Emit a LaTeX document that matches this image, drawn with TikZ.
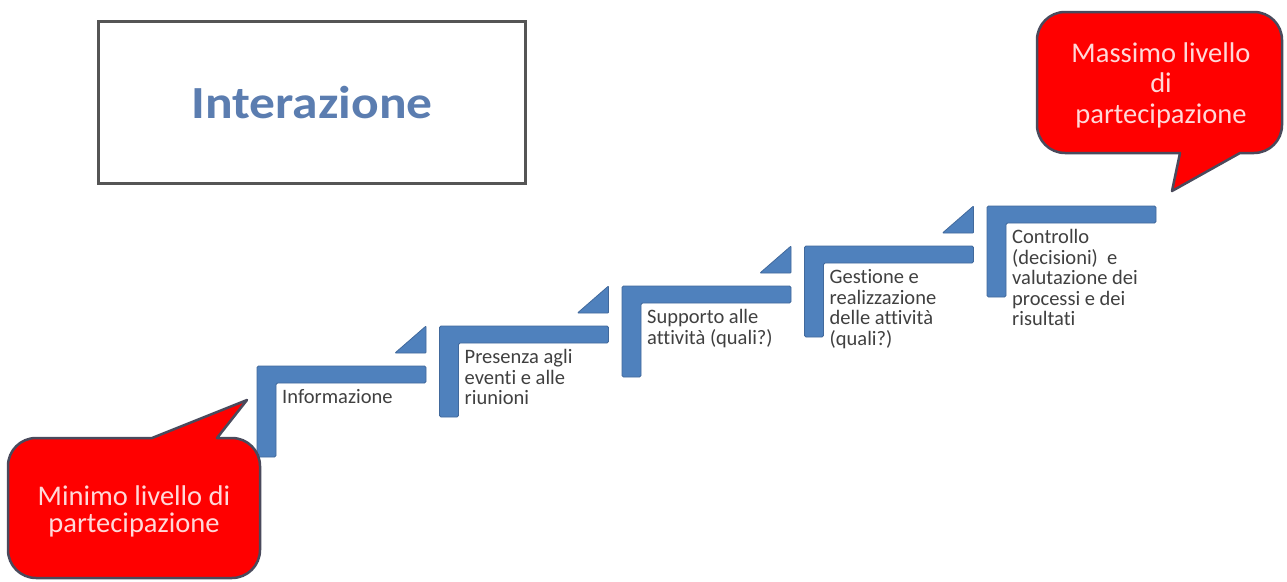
\documentclass[tikz,border=0pt]{standalone}
\usepackage{fontspec}
\setmainfont{Carlito}[Ligatures=NoCommon]
\newfontfamily\titlefont{Carlito}[FakeStretch=1.12, Ligatures=NoCommon]
\definecolor{stepblue}{HTML}{4F81BD}
\definecolor{stepedge}{HTML}{41699C}
\definecolor{steptext}{HTML}{404040}
\definecolor{bubred}{HTML}{FF0000}
\definecolor{bubedge}{HTML}{4A4A5C}
\definecolor{bubtext}{HTML}{FFD8D8}
\definecolor{titleblue}{HTML}{5B7DB0}
\definecolor{boxedge}{HTML}{555555}
\tikzset{
  stepshape/.style={fill=stepblue, draw=stepedge, line width=0.8pt, rounded corners=1.5pt},
  steplabel/.style={font=\fontsize{20.5}{20.5}\selectfont, text=steptext, align=left, inner sep=0pt, anchor=north west},
  bubble/.style={fill=bubred, draw=bubedge, line width=2.5pt, line join=round},
  bublabel/.style={text=bubtext, align=center, inner sep=0pt, anchor=north},
  titlebox/.style={draw=boxedge, line width=3pt, fill=white, minimum width=427pt, minimum height=162pt, inner sep=0pt},
}
\begin{document}
\begin{tikzpicture}[x=1pt,y=-1pt]
\useasboundingbox (0,0) rectangle (1287,581);
\fill[white] (0,0) rectangle (1287,581);

% title box
\node[titlebox] (tbox) at (311.5,102) {};
\node[font=\titlefont\bfseries\fontsize{46}{50}\selectfont, text=titleblue, anchor=base, inner sep=0pt] (ttext) at (312,118) {Interazione};

% steps
\foreach \i in {0,...,4}{
  \pgfmathsetmacro{\L}{257+182.5*\i}
  \pgfmathsetmacro{\T}{366-40*\i}
  \draw[stepshape] (\L,\T) -- ++(169,0) -- ++(0,17) -- ++(-150,0) -- ++(0,74) -- ++(-19,0) -- cycle;
}
\foreach \i in {0,...,3}{
  \pgfmathsetmacro{\R}{426+182.5*\i}
  \pgfmathsetmacro{\T}{366-40*\i}
  \draw[stepshape, rounded corners=0.8pt] (\R-31,\T-13) -- (\R,\T-40) -- (\R,\T-13) -- cycle;
}

\node[steplabel] (s1) at (282,388.5) {\rule{0pt}{15pt}Informazione};
\node[steplabel] (s2) at (464.5,348.5) {\rule{0pt}{15pt}Presenza agli\\eventi e alle\\riunioni};
\node[steplabel] (s3) at (647,308.5) {\rule{0pt}{15pt}Supporto alle\\attività (quali?)};
\node[steplabel] (s4) at (829.5,268.5) {\rule{0pt}{15pt}Gestione e\\realizzazione\\delle attività\\(quali?)};
\node[steplabel] (s5) at (1012,228.5) {\rule{0pt}{15pt}Controllo\\(decisioni)~ e\\valutazione dei\\processi e dei\\risultati};

% bottom-left bubble
\draw[bubble] (8,466) arc[start angle=180, end angle=270, radius=28]
  -- (152,438) -- (247,400) -- (217,438) -- (232,438)
  arc[start angle=270, end angle=360, radius=28]
  -- (260,550) arc[start angle=0, end angle=90, radius=28]
  -- (36,578) arc[start angle=90, end angle=180, radius=28] -- cycle;
\node[bublabel, font=\fontsize{28.5}{27}\selectfont] (minlab) at (134,484) {\rule{0pt}{21pt}Minimo livello di\\partecipazione};

% top-right bubble
\draw[bubble] (1037,40) arc[start angle=180, end angle=270, radius=28]
  -- (1254,12) arc[start angle=270, end angle=360, radius=28]
  -- (1282,125) arc[start angle=0, end angle=90, radius=28]
  -- (1240,153) -- (1172,191) -- (1180,153) -- (1065,153)
  arc[start angle=90, end angle=180, radius=28] -- cycle;
\node[bublabel, font=\fontsize{28.5}{30.5}\selectfont] (maxlab) at (1161,41) {\rule{0pt}{21pt}Massimo livello\\di\\partecipazione};
\end{tikzpicture}
\end{document}
